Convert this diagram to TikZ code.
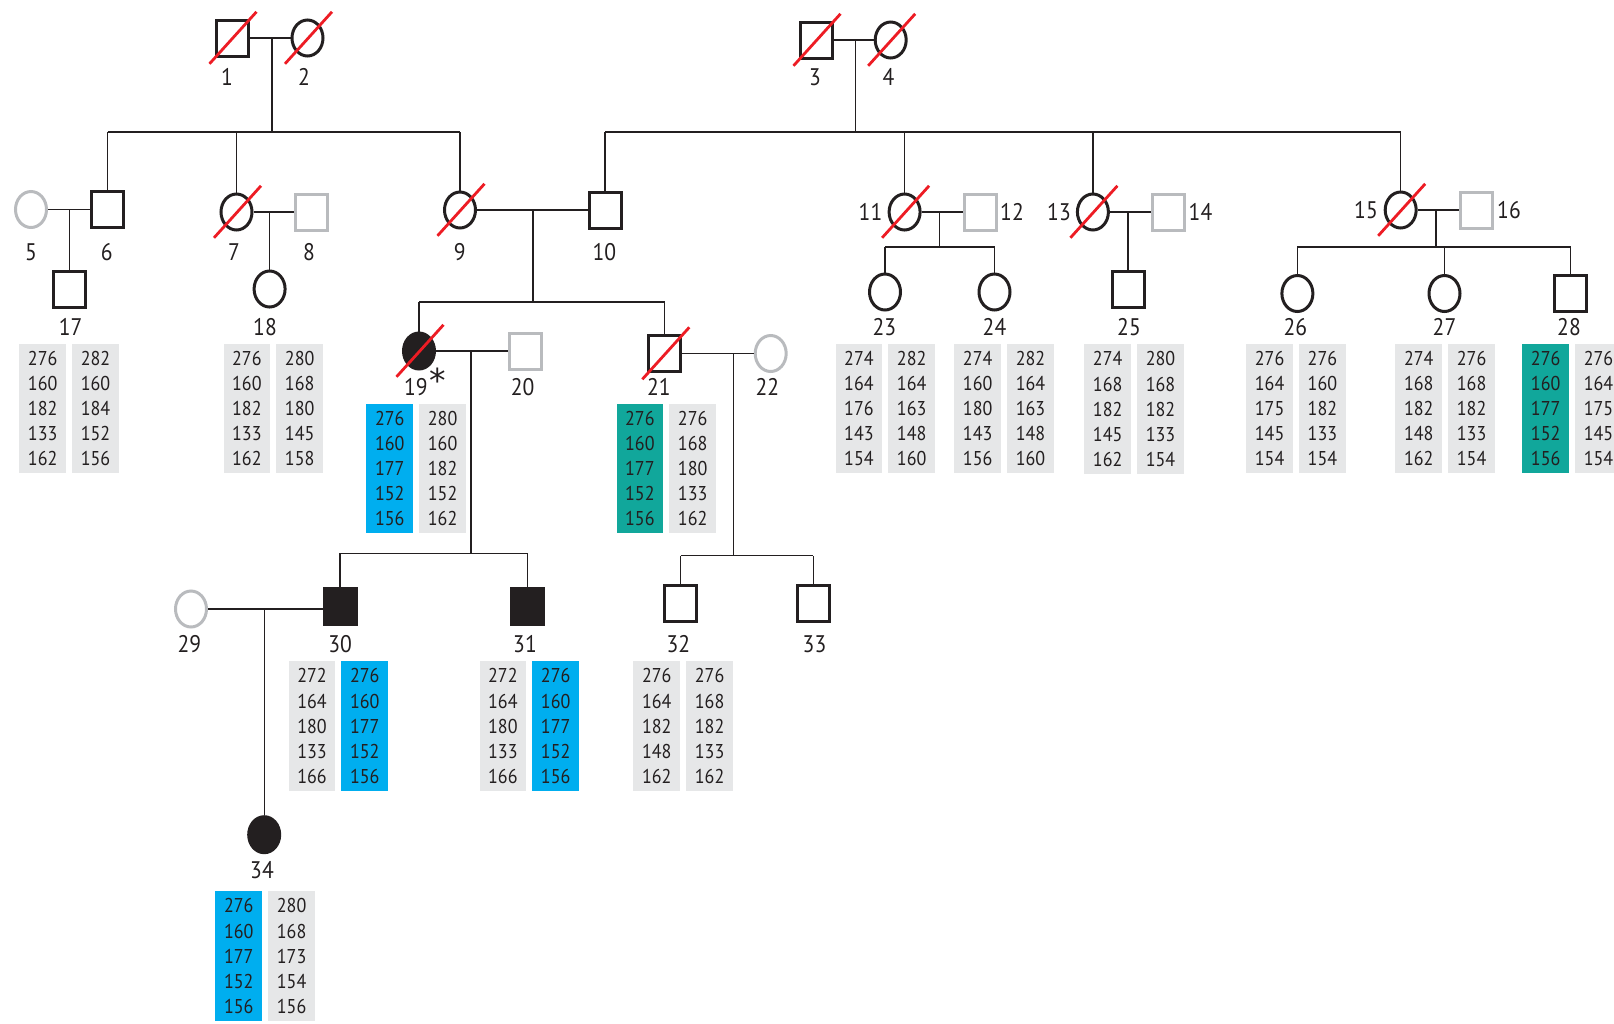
\documentclass[tikz,border=0pt]{standalone}
\usepackage{fontspec}
\setmainfont{PT Sans}
\newfontfamily\numfont[FakeStretch=0.9]{PT Sans}
\newfontfamily\astfont{DejaVu Sans}
\usetikzlibrary{shapes.geometric}
\definecolor{ink}{RGB}{35,31,32}
\definecolor{symgray}{RGB}{185,187,190}
\definecolor{boxgray}{RGB}{230,231,232}
\definecolor{cyanbox}{RGB}{0,174,239}
\definecolor{tealbox}{RGB}{17,167,155}
\definecolor{slashred}{RGB}{237,28,36}
\tikzset{
  sym/.style={draw=ink, line width=1.5pt, inner sep=0pt, fill=white},
  male/.style={sym, rectangle, minimum width=16pt, minimum height=18pt},
  female/.style={sym, ellipse, minimum width=15.5pt, minimum height=18pt},
  marryin/.style={draw=symgray},
  affected/.style={fill=ink},
  lbl/.style={font=\numfont\fontsize{12}{14}\selectfont, text=ink, inner sep=0pt},
  link/.style={draw=ink, line width=0.65pt},
  redslash/.style={draw=slashred, line width=1.4pt},
  gtbox/.style={inner sep=0pt, minimum width=23.4pt, minimum height=64.75pt, text=ink,
    align=center, font=\numfont\fontsize{10}{12.55}\selectfont, anchor=north west},
}
\newcommand\slashit[1]{\draw[redslash] ([shift={(-22.5,25.8)}]#1.center) -- ([shift={(24.5,-26.2)}]#1.center);}
\newcommand\gtpair[7]{%
  \node[gtbox, fill=#4] (#1L) at (#2,#3) {#6};
  \node[gtbox, fill=#5] (#1R) at ([xshift=2.6pt]#1L.north east) {#7};}
\begin{document}
\begin{tikzpicture}[x=0.5pt, y=-0.5pt]
\useasboundingbox (0,0) rectangle (1614,1024);

% ---- generation I
\node[male]   (n1) at (232,38) {};
\node[female] (n2) at (307.5,38) {};
\node[male]   (n3) at (816,40) {};
\node[female] (n4) at (890.7,40) {};
% ---- generation II
\node[female,marryin] (n5) at (31,209.5) {};
\node[male]   (n6) at (107.6,209.5) {};
\node[female] (n7) at (236.5,212) {};
\node[male,marryin] (n8) at (311.6,212) {};
\node[female] (n9) at (460,210) {};
\node[male]   (n10) at (605,210) {};
\node[female] (n11) at (904.6,212) {};
\node[male,marryin] (n12) at (980,212) {};
\node[female] (n13) at (1092.9,212) {};
\node[male,marryin] (n14) at (1168,212) {};
\node[female] (n15) at (1400.7,210) {};
\node[male,marryin] (n16) at (1476.4,210) {};
% ---- generation III
\node[male]   (n17) at (69.4,289.5) {};
\node[female] (n18) at (269.6,289) {};
\node[female,affected] (n19) at (419,351) {};
\node[male,marryin] (n20) at (525,351) {};
\node[male]   (n21) at (664.8,353.5) {};
\node[female,marryin] (n22) at (770.7,353.5) {};
\node[female] (n23) at (885,292) {};
\node[female] (n24) at (994.5,292) {};
\node[male]   (n25) at (1128,289) {};
\node[female] (n26) at (1297.4,293.5) {};
\node[female] (n27) at (1444.5,293.5) {};
\node[male]   (n28) at (1570.8,293.5) {};
% ---- generation IV
\node[female,marryin] (n29) at (191,609) {};
\node[male,affected] (n30) at (340,606) {};
\node[male,affected] (n31) at (527.7,606) {};
\node[male]   (n32) at (680.5,603) {};
\node[male]   (n33) at (813.4,603) {};
% ---- generation V
\node[female,affected] (n34) at (264.2,834.7) {};

% ---- mate lines
\foreach \a/\b in {1/2,3/4,5/6,7/8,9/10,11/12,13/14,15/16,19/20,21/22,29/30}
  {\draw[link] (n\a.east) -- (n\a.east -| n\b.west);}

% ---- descent 1x2
\coordinate (d12) at (272,38);
\coordinate (s12) at (272,132);
\draw[link] (d12) -- (s12);
\draw[link] (n6.north |- s12) -- (n9.north |- s12);
\foreach \c in {6,7,9} {\draw[link] (n\c.north) -- (n\c.north |- s12);}
% ---- descent 3x4
\coordinate (d34) at (855.8,40);
\coordinate (s34) at (855.8,132);
\draw[link] (d34) -- (s34);
\draw[link] (n10.north |- s34) -- (n15.north |- s34);
\foreach \c in {10,11,13,15} {\draw[link] (n\c.north) -- (n\c.north |- s34);}
% ---- single children
\draw[link] (n17.north |- n5.east) -- (n17.north);
\draw[link] (n18.north |- n7.east) -- (n18.north);
\draw[link] (n25.north |- n13.east) -- (n25.north);
\draw[link] (n34.north |- n29.east) -- (n34.north);
% ---- descent 9x10
\coordinate (d910) at (533,210);
\coordinate (s910) at (533,302);
\draw[link] (d910) -- (s910);
\draw[link] (n19.north |- s910) -- (n21.north |- s910);
\foreach \c in {19,21} {\draw[link] (n\c.north) -- (n\c.north |- s910);}
% ---- descent 11x12
\coordinate (d1112) at (939.5,212);
\coordinate (s1112) at (939.5,247);
\draw[link] (d1112) -- (s1112);
\draw[link] (n23.north |- s1112) -- (n24.north |- s1112);
\foreach \c in {23,24} {\draw[link] (n\c.north) -- (n\c.north |- s1112);}
% ---- descent 15x16
\coordinate (d1516) at (1436,210);
\coordinate (s1516) at (1436,247);
\draw[link] (d1516) -- (s1516);
\draw[link] (n26.north |- s1516) -- (n28.north |- s1516);
\foreach \c in {26,27,28} {\draw[link] (n\c.north) -- (n\c.north |- s1516);}
% ---- descent 19x20
\coordinate (d1920) at (471,351);
\coordinate (s1920) at (471,553.3);
\draw[link] (d1920) -- (s1920);
\draw[link] (n30.north |- s1920) -- (n31.north |- s1920);
\foreach \c in {30,31} {\draw[link] (n\c.north) -- (n\c.north |- s1920);}
% ---- descent 21x22
\coordinate (d2122) at (733.5,353.5);
\coordinate (s2122) at (733.5,555.7);
\draw[link] (d2122) -- (s2122);
\draw[link] (n32.north |- s2122) -- (n33.north |- s2122);
\foreach \c in {32,33} {\draw[link] (n\c.north) -- (n\c.north |- s2122);}

% ---- deceased
\foreach \c in {1,2,3,4,7,9,11,13,15,19,21} {\slashit{n\c}}

% ---- labels
\node[lbl] (l1) at (227,77) {1};
\node[lbl] (l2) at (304,77) {2};
\node[lbl] (l3) at (815,77) {3};
\node[lbl] (l4) at (888.5,77) {4};
\node[lbl] (l5) at (31,252) {5};
\node[lbl] (l6) at (106.8,252) {6};
\node[lbl] (l7) at (234,252) {7};
\node[lbl] (l8) at (309,252) {8};
\node[lbl] (l9) at (459.7,252) {9};
\node[lbl] (l10) at (604.4,252) {10};
\node[lbl] (l11) at (870.5,212) {11};
\node[lbl] (l12) at (1012,212) {12};
\node[lbl] (l13) at (1059,212) {13};
\node[lbl] (l14) at (1200.5,212) {14};
\node[lbl] (l15) at (1366,210) {15};
\node[lbl] (l16) at (1509,210) {16};
\node[lbl] (l17) at (70.6,327) {17};
\node[lbl] (l18) at (265,327) {18};
\node[lbl,anchor=base west] (l19) at (403.6,395.5) {19\kern0.8pt\raisebox{1.5pt}{\astfont\fontsize{16.5}{16.5}\selectfont *}};
\node[lbl] (l20) at (522.7,387.3) {20};
\node[lbl] (l21) at (658.8,387.3) {21};
\node[lbl] (l22) at (767.3,387.3) {22};
\node[lbl] (l23) at (884.4,327) {23};
\node[lbl] (l24) at (994.5,327) {24};
\node[lbl] (l25) at (1129,327) {25};
\node[lbl] (l26) at (1295.4,327) {26};
\node[lbl] (l27) at (1444.5,327) {27};
\node[lbl] (l28) at (1569,327) {28};
\node[lbl] (l29) at (189.4,644.3) {29};
\node[lbl] (l30) at (340.2,644.3) {30};
\node[lbl] (l31) at (525,644.3) {31};
\node[lbl] (l32) at (678.4,644.3) {32};
\node[lbl] (l33) at (814.5,644.3) {33};
\node[lbl] (l34) at (262,870) {34};

% ---- haplotype boxes
\gtpair{b17}{18.9}{343.3}{boxgray}{boxgray}{276\\160\\182\\133\\162}{282\\160\\184\\152\\156}
\gtpair{b18}{223.1}{343.3}{boxgray}{boxgray}{276\\160\\182\\133\\162}{280\\168\\180\\145\\158}
\gtpair{b19}{366}{403.3}{cyanbox}{boxgray}{276\\160\\177\\152\\156}{280\\160\\182\\152\\162}
\gtpair{b21}{616.1}{403.3}{tealbox}{boxgray}{276\\160\\177\\152\\156}{276\\168\\180\\133\\162}
\gtpair{b23}{835.1}{343.3}{boxgray}{boxgray}{274\\164\\176\\143\\154}{282\\164\\163\\148\\160}
\gtpair{b24}{953.9}{343.3}{boxgray}{boxgray}{274\\160\\180\\143\\156}{282\\164\\163\\148\\160}
\gtpair{b25}{1083.9}{344}{boxgray}{boxgray}{274\\168\\182\\145\\162}{280\\168\\182\\133\\154}
\gtpair{b26}{1245.8}{343.3}{boxgray}{boxgray}{276\\164\\175\\145\\154}{276\\160\\182\\133\\154}
\gtpair{b27}{1395}{343.3}{boxgray}{boxgray}{274\\168\\182\\148\\162}{276\\168\\182\\133\\154}
\gtpair{b28}{1521.9}{343.3}{tealbox}{boxgray}{276\\160\\177\\152\\156}{276\\164\\175\\145\\154}
\gtpair{b30}{288.2}{661}{boxgray}{cyanbox}{272\\164\\180\\133\\166}{276\\160\\177\\152\\156}
\gtpair{b31}{479.1}{661}{boxgray}{cyanbox}{272\\164\\180\\133\\166}{276\\160\\177\\152\\156}
\gtpair{b32}{633}{661}{boxgray}{boxgray}{276\\164\\182\\148\\162}{276\\168\\182\\133\\162}
\gtpair{b34}{215}{891}{cyanbox}{boxgray}{276\\160\\177\\152\\156}{280\\168\\173\\154\\156}
\end{tikzpicture}
\end{document}
